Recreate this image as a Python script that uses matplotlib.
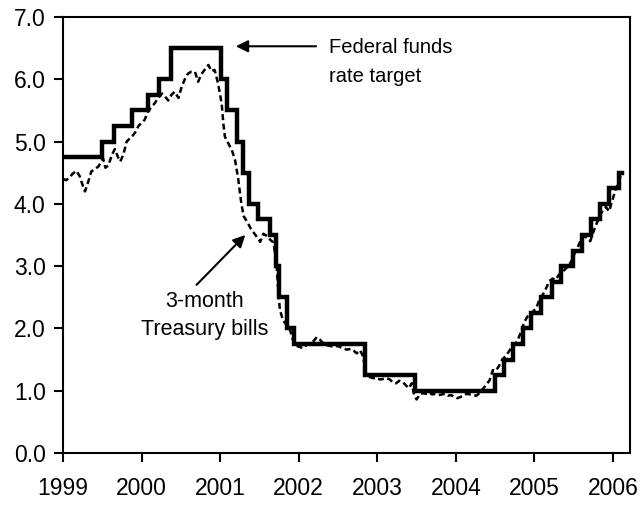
import matplotlib
matplotlib.use("Agg")
import matplotlib.pyplot as plt
import pandas as pd

plt.rcParams['font.family'] = ['Liberation Sans', 'DejaVu Sans']

# Federal funds rate target: change dates and new levels
target_dates = ["1999-01-01", "1999-06-30", "1999-08-24", "1999-11-16", "2000-02-02",
                "2000-03-21", "2000-05-16", "2001-01-03", "2001-01-31", "2001-03-20",
                "2001-04-18", "2001-05-15", "2001-06-27", "2001-08-21", "2001-09-17",
                "2001-10-02", "2001-11-06", "2001-12-11", "2002-11-06", "2003-06-25",
                "2004-06-30", "2004-08-10", "2004-09-21", "2004-11-10", "2004-12-14",
                "2005-02-02", "2005-03-22", "2005-05-03", "2005-06-30", "2005-08-09",
                "2005-09-20", "2005-11-01", "2005-12-13", "2006-01-31", "2006-02-10"]
target_rates = [4.75, 5.00, 5.25, 5.50, 5.75, 6.00, 6.50, 6.00, 5.50, 5.00,
                4.50, 4.00, 3.75, 3.50, 3.00, 2.50, 2.00, 1.75, 1.25, 1.00,
                1.25, 1.50, 1.75, 2.00, 2.25, 2.50, 2.75, 3.00, 3.25, 3.50,
                3.75, 4.00, 4.25, 4.50, 4.50]

# 3-month Treasury bill yield (decimal years, percent)
tbill_years = [1999.00, 1999.04, 1999.08, 1999.12, 1999.17, 1999.21, 1999.25, 1999.28, 1999.32, 1999.36,
               1999.40, 1999.45, 1999.49, 1999.51, 1999.54, 1999.58, 1999.62, 1999.66, 1999.70, 1999.73,
               1999.77, 1999.81, 1999.85, 1999.89, 1999.92, 1999.96, 2000.00, 2000.04, 2000.08, 2000.13,
               2000.17, 2000.21, 2000.26, 2000.30, 2000.34, 2000.38, 2000.42, 2000.47, 2000.51, 2000.55,
               2000.59, 2000.63, 2000.68, 2000.72, 2000.76, 2000.80, 2000.85, 2000.89, 2000.93, 2000.97,
               2001.00, 2001.02, 2001.04, 2001.06, 2001.10, 2001.15, 2001.19, 2001.23, 2001.27, 2001.30,
               2001.34, 2001.40, 2001.45, 2001.51, 2001.55, 2001.60, 2001.64, 2001.68, 2001.72, 2001.74,
               2001.76, 2001.80, 2001.85, 2001.89, 2001.93, 2001.97, 2002.02, 2002.06, 2002.10, 2002.15,
               2002.19, 2002.23, 2002.27, 2002.31, 2002.36, 2002.40, 2002.45, 2002.49, 2002.53, 2002.57,
               2002.61, 2002.66, 2002.70, 2002.74, 2002.78, 2002.82, 2002.86, 2002.90, 2002.95, 2002.99,
               2003.03, 2003.08, 2003.12, 2003.16, 2003.20, 2003.24, 2003.28, 2003.33, 2003.37, 2003.40,
               2003.44, 2003.47, 2003.50, 2003.54, 2003.58, 2003.62, 2003.66, 2003.70, 2003.74, 2003.78,
               2003.82, 2003.86, 2003.90, 2003.94, 2003.98, 2004.02, 2004.06, 2004.10, 2004.14, 2004.18,
               2004.22, 2004.26, 2004.30, 2004.35, 2004.39, 2004.43, 2004.47, 2004.51, 2004.55, 2004.59,
               2004.63, 2004.67, 2004.71, 2004.75, 2004.79, 2004.83, 2004.87, 2004.91, 2004.95, 2004.99,
               2005.03, 2005.07, 2005.11, 2005.15, 2005.19, 2005.23, 2005.27, 2005.31, 2005.35, 2005.39,
               2005.43, 2005.47, 2005.51, 2005.55, 2005.59, 2005.63, 2005.67, 2005.71, 2005.75, 2005.79,
               2005.83, 2005.87, 2005.91, 2005.95, 2005.99, 2006.03, 2006.07, 2006.11]
tbill_rates = [4.40, 4.38, 4.42, 4.48, 4.53, 4.45, 4.30, 4.20, 4.35, 4.52,
               4.55, 4.60, 4.68, 4.73, 4.58, 4.62, 4.78, 4.88, 4.75, 4.68,
               4.80, 5.00, 5.05, 5.10, 5.15, 5.25, 5.30, 5.35, 5.48, 5.56,
               5.62, 5.70, 5.77, 5.72, 5.66, 5.75, 5.80, 5.70, 5.88, 6.00,
               6.09, 6.12, 6.12, 5.96, 6.08, 6.15, 6.23, 6.13, 6.15, 5.95,
               5.75, 5.60, 5.30, 5.08, 4.98, 4.86, 4.70, 4.40, 4.00, 3.80,
               3.72, 3.58, 3.50, 3.39, 3.52, 3.48, 3.42, 3.38, 2.99, 2.60,
               2.30, 2.13, 2.05, 1.97, 1.80, 1.72, 1.70, 1.68, 1.74, 1.76,
               1.80, 1.86, 1.82, 1.76, 1.73, 1.72, 1.70, 1.72, 1.70, 1.68,
               1.66, 1.67, 1.64, 1.60, 1.65, 1.55, 1.25, 1.22, 1.20, 1.21,
               1.18, 1.19, 1.20, 1.18, 1.13, 1.12, 1.16, 1.13, 1.08, 1.04,
               1.12, 0.92, 0.86, 0.94, 0.96, 0.95, 0.97, 0.94, 0.95, 0.93,
               0.94, 0.95, 0.92, 0.93, 0.90, 0.88, 0.90, 0.93, 0.95, 0.94,
               0.93, 0.92, 0.96, 1.04, 1.10, 1.17, 1.33, 1.32, 1.40, 1.50,
               1.55, 1.62, 1.70, 1.74, 1.82, 1.95, 2.10, 2.19, 2.22, 2.28,
               2.35, 2.48, 2.55, 2.65, 2.76, 2.80, 2.78, 2.86, 2.90, 2.95,
               3.00, 3.08, 3.20, 3.30, 3.42, 3.48, 3.45, 3.40, 3.55, 3.68,
               3.80, 3.90, 3.95, 3.88, 4.05, 4.22, 4.35, 4.49]

year_ticks = [1999, 2000, 2001, 2002, 2003, 2004, 2005, 2006]
y_ticks = [0, 1, 2, 3, 4, 5, 6, 7]


def to_decimal_year(s):
    d = pd.Timestamp(s)
    days = 366 if d.is_leap_year else 365
    return d.year + (d.dayofyear - 1) / days


target_x = [to_decimal_year(s) for s in target_dates]

fig = plt.figure(figsize=(6.44, 5.05), dpi=100)
ax = fig.add_axes([63 / 644, 1 - 453 / 505, (630 - 63) / 644, (453 - 17) / 505])

ax.plot(tbill_years, tbill_rates, color='black', lw=1.8, linestyle=(0, (2.4, 1.4)))
ax.plot(target_x, target_rates, color='black', lw=3.2, drawstyle='steps-post',
        solid_joinstyle='miter')

ax.set_xlim(1999, 2006.216)
ax.set_ylim(0, 7)
ax.set_xticks(year_ticks)
ax.set_xticklabels([str(y) for y in year_ticks])
ax.set_yticks(y_ticks)
ax.set_yticklabels([f"{v:.1f}" for v in y_ticks])

for sp in ax.spines.values():
    sp.set_linewidth(1.5)
    sp.set_color('black')
ax.tick_params(axis='both', direction='out', length=6.5, width=1.5, labelsize=16.5, colors='black')
ax.tick_params(axis='x', pad=11)
ax.tick_params(axis='y', pad=6)

ax.text(2002.39, 6.43, "Federal funds", fontsize=14.5, ha='left', va='baseline')
ax.text(2002.39, 5.95, "rate target", fontsize=14.5, ha='left', va='baseline')
ax.annotate('', xy=(2001.20, 6.53), xytext=(2002.22, 6.53),
            arrowprops=dict(arrowstyle='-|>', lw=1.5, color='black', mutation_scale=18,
                            shrinkA=0, shrinkB=0))

ax.text(2000.80, 2.34, "3-month", fontsize=15.5, ha='center', va='baseline')
ax.text(2000.80, 1.89, "Treasury bills", fontsize=15.5, ha='center', va='baseline')
ax.annotate('', xy=(2001.32, 3.50), xytext=(2000.70, 2.70),
            arrowprops=dict(arrowstyle='-|>', lw=1.5, color='black', mutation_scale=18,
                            shrinkA=0, shrinkB=0))

fig.savefig("out.png", dpi=100)
